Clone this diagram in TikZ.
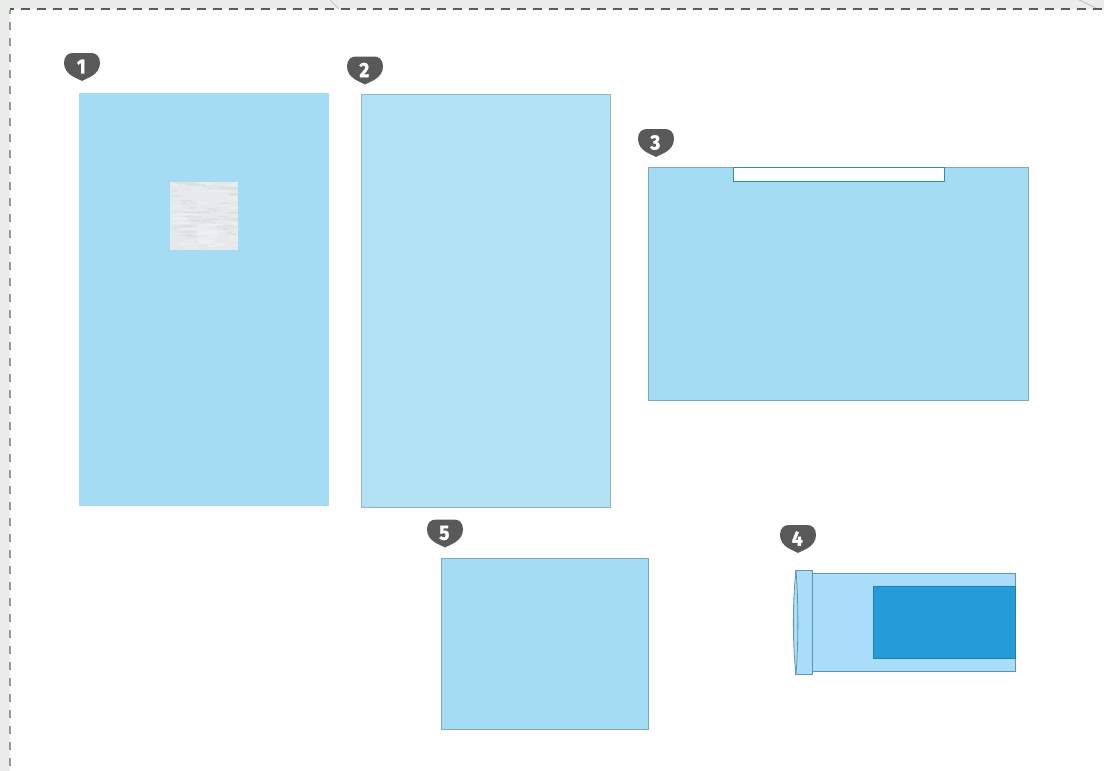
\documentclass[tikz,border=0pt]{standalone}
\usepackage{fontspec}
\setmainfont{Fira Sans}
\newfontfamily\digitfont{Fira Sans Bold}[FakeBold=1.6,FakeStretch=0.92]
\definecolor{pageGrey}{HTML}{EBEDEB}
\definecolor{dashDark}{HTML}{5A5A5A}
\definecolor{dashLeft}{HTML}{9A9A9A}
\definecolor{tickGrey}{HTML}{B4B4B4}
\definecolor{sheetA}{HTML}{A3DCF3}
\definecolor{sheetB}{HTML}{B4E2F5}
\definecolor{sheetC}{HTML}{A9DDF9}
\definecolor{edgeA}{HTML}{7FA8B8}
\definecolor{edgeB}{HTML}{8FB4C2}
\definecolor{edgeC}{HTML}{5F97A6}
\definecolor{pocket}{HTML}{249CD9}
\definecolor{pocketEdge}{HTML}{1F7FA8}
\definecolor{slotEdge}{HTML}{2A8FB8}
\definecolor{badgeGrey}{HTML}{595959}
\definecolor{gauze}{HTML}{E6E8E9}
\definecolor{gauzeDark}{HTML}{D9DCDD}
\definecolor{gauzeLight}{HTML}{F1F2F3}
\tikzset{
  sheet/.style={draw=edgeA,line width=0.6pt,fill=sheetA},
  badgetext/.style={text=white,font=\fontsize{15.5}{15.5}\digitfont,inner sep=0pt},
  weave/.style={line width=1.3pt,opacity=0.55,line cap=round},
}
\newcommand{\badge}[4]{% name, cx, top y, digit
  \fill[badgeGrey] (#2,#3+28)
    .. controls (#2-4,#3+25.5) and (#2-18,#3+22) .. (#2-18,#3+10)
    .. controls (#2-18,#3+3) and (#2-14,#3) .. (#2-9,#3)
    -- (#2+9,#3)
    .. controls (#2+14,#3) and (#2+18,#3+3) .. (#2+18,#3+10)
    .. controls (#2+18,#3+22) and (#2+4,#3+25.5) .. (#2,#3+28) -- cycle;
  \node[badgetext] (#1) at (#2-0.7,#3+13.5) {#4};
}
\begin{document}
\begin{tikzpicture}[x=0.75pt,y=-0.75pt]
\useasboundingbox (0,0) rectangle (1104,771);
% page
\fill[pageGrey] (0,0) rectangle (1104,771);
\fill[white] (10,9) rectangle (1104,771);
\draw[tickGrey,line width=0.5pt] (330,0) -- (339,9);
\draw[tickGrey,line width=0.5pt] (1079,0) -- (1098,9);
\draw[dashDark,line width=0.8pt,dash pattern=on 6.4pt off 5.6pt,dash phase=3.4pt] (9.5,9) -- (1104,9);
\draw[dashLeft,line width=1.1pt,dash pattern=on 6.2pt off 5.8pt,dash phase=2.6pt] (10,9.5) -- (10,771);
% sheet 1
\fill[sheetA] (79,93) rectangle (329,506);
\fill[gauze] (170,182) rectangle (238,250);
\begin{scope}
\clip (170,182) rectangle (238,250);
\pgfmathsetseed{4242}
\foreach \i in {1,...,110}{
  \pgfmathsetmacro{\xa}{168+70*rnd}
  \pgfmathsetmacro{\ya}{182+68*rnd}
  \pgfmathsetmacro{\len}{5+16*rnd}
  \pgfmathtruncatemacro{\pick}{rnd<0.5 ? 0 : 1}
  \ifnum\pick=0 \def\col{gauzeDark}\else\def\col{gauzeLight}\fi
  \draw[weave,\col] (\xa,\ya) -- (\xa+\len,\ya);
}
\fill[gauzeLight,opacity=0.5] (207,233) circle (11);
\end{scope}
% sheet 2
\draw[draw=edgeB,line width=0.6pt,fill=sheetB] (361,94.5) rectangle (610.5,507.5);
% sheet 3
\draw[sheet] (648.7,167.8) rectangle (1028.5,400.6);
\draw[draw=slotEdge,line width=0.7pt,fill=white] (733,167.8) rectangle (944.5,181.5);
% sheet 5
\draw[sheet] (441.7,558.3) rectangle (648.5,729.3);
% item 4
\draw[draw=edgeC,line width=0.6pt,fill=sheetC] (812,573) rectangle (1015.5,671.5);
\draw[draw=pocketEdge,line width=0.7pt,fill=pocket] (873,586.5) rectangle (1015,658.5);
\draw[draw=edgeC,line width=0.6pt,fill=sheetC] (795.5,570.5) rectangle (812,674);
\draw[draw=edgeC,line width=0.6pt,fill=sheetC] (796,571) .. controls (792.5,600) and (792.5,645) .. (796,674) .. controls (798.5,645) and (798.5,600) .. (796,571) -- cycle;
% badges
\badge{b1}{82}{53}{1}
\badge{b2}{365}{56.5}{2}
\badge{b3}{656}{129}{3}
\badge{b5}{445}{519.5}{5}
\badge{b4}{798}{525}{4}
\end{tikzpicture}
\end{document}
